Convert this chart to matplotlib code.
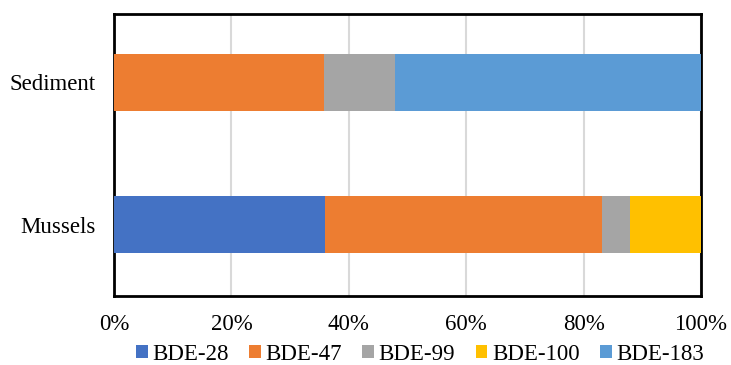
import matplotlib
matplotlib.use("Agg")
import matplotlib.pyplot as plt
import numpy as np
from matplotlib.patches import Patch

plt.rcParams['font.family'] = ['Liberation Serif', 'DejaVu Serif']

categories = ["Mussels", "Sediment"]
congeners = ["BDE-28", "BDE-47", "BDE-99", "BDE-100", "BDE-183"]
# percentage share of each congener, per matrix (Mussels, Sediment)
bde28 = [35.9, 0.0]
bde47 = [47.3, 35.8]
bde99 = [4.7, 12.1]
bde100 = [12.1, 0.0]
bde183 = [0.0, 52.1]
tick_labels = ["0%", "20%", "40%", "60%", "80%", "100%"]

series = [bde28, bde47, bde99, bde100, bde183]
colors = ["#4472C4", "#ED7D31", "#A5A5A5", "#FFC000", "#5B9BD5"]

fig = plt.figure(figsize=(7.31, 3.65), dpi=100)
ax = fig.add_axes([114 / 731, 1 - 296 / 365, 587 / 731, 282 / 365])

y = np.arange(len(categories))
left = np.zeros(len(categories))
for vals, col, name in zip(series, colors, congeners):
    vals = np.array(vals)
    ax.barh(y, vals, left=left, height=0.4, color=col, label=name, zorder=3)
    left += vals

ax.set_xlim(0, 100)
ax.set_ylim(-0.5, 1.48)
ax.set_xticks(np.linspace(0, 100, len(tick_labels)))
ax.set_xticklabels(tick_labels)
ax.set_yticks(y)
ax.set_yticklabels(categories)
ax.tick_params(axis='both', length=0, labelsize=16.5)
ax.tick_params(axis='x', pad=13)
ax.tick_params(axis='y', pad=13)
ax.grid(axis='x', color='#D9D9D9', linewidth=1.5, zorder=0)
for s in ax.spines.values():
    s.set_linewidth(2)
    s.set_color('black')

handles = [Patch(facecolor=c, edgecolor='none') for c in colors]
fig.legend(handles, congeners, loc='center', bbox_to_anchor=(420 / 731, 1 - 354 / 365),
           ncol=5, frameon=False, fontsize=16.5, handlelength=0.5, handleheight=0.5,
           handletextpad=0.2, columnspacing=0.9)

fig.savefig("out.png", dpi=100)
